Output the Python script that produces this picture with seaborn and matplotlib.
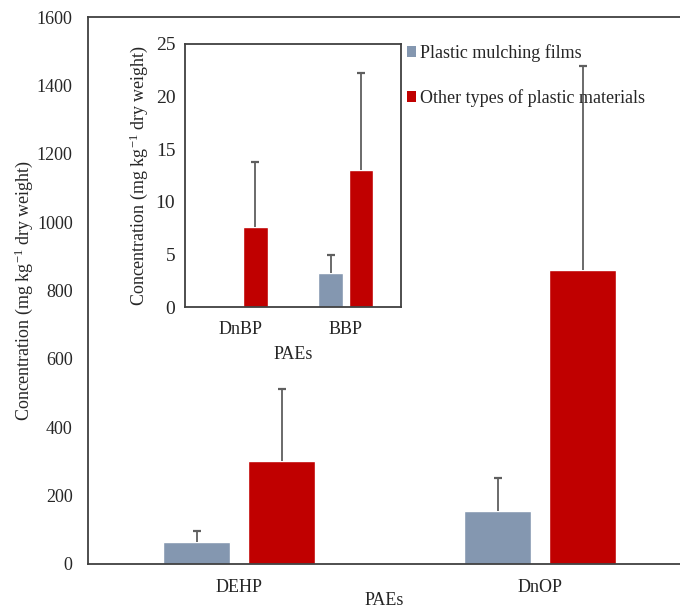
import numpy as np
import pandas as pd
import matplotlib
matplotlib.use("Agg")
import matplotlib.pyplot as plt
import seaborn as sns
from matplotlib.patches import Patch

# ---- data ----
main_categories = ["DEHP", "DnOP"]
main_film = [64, 155]
main_film_sd = [32, 96]
main_other = [301, 860]
main_other_sd = [211, 596]

inset_categories = ["DnBP", "BBP"]
inset_film = [0.05, 3.2]
inset_film_sd = [0.0, 1.7]
inset_other = [7.6, 13.0]
inset_other_sd = [6.2, 9.2]

series_names = ["Plastic mulching films", "Other types of plastic materials"]
main_yticks = [0, 200, 400, 600, 800, 1000, 1200, 1400, 1600]
inset_yticks = [0, 5, 10, 15, 20, 25]

colors = ["#8497B0", "#C00000"]
err_color = "#5f5f5f"
spine_color = "#404040"

sns.set_style("white")
plt.rcParams["font.family"] = ["Liberation Serif", "DejaVu Serif"]
plt.rcParams["mathtext.fontset"] = "custom"
plt.rcParams["mathtext.rm"] = "Liberation Serif"
plt.rcParams["mathtext.it"] = "Liberation Serif:italic"
text_color = "#262626"
fs = 13


def make_df(cats, film, other):
    return pd.DataFrame({
        "PAE": cats * 2,
        "Type": [series_names[0]] * len(cats) + [series_names[1]] * len(cats),
        "Value": list(film) + list(other),
    })


def add_err(ax, sds, capsize):
    for cont, sd in zip(ax.containers, sds):
        for bar, s in zip(cont.patches, sd):
            if s <= 0:
                continue
            x = bar.get_x() + bar.get_width() / 2
            y = bar.get_height()
            ax.vlines(x, y, y + s, color=err_color, lw=1.3, zorder=3)
            ax.plot([x], [y + s], marker="_", markersize=capsize,
                    mew=1.6, color=err_color, zorder=3)


fig = plt.figure(figsize=(6.8, 6.1), dpi=100)

# ---- main axes ----
ax = fig.add_axes([88 / 680, 46 / 610, 592 / 680, 547 / 610])
sns.barplot(data=make_df(main_categories, main_film, main_other),
            x="PAE", y="Value", hue="Type", palette=colors,
            width=0.565, gap=0.21, errorbar=None, legend=False,
            saturation=1, ax=ax)
add_err(ax, [main_film_sd, main_other_sd], 6)
ax.set_xlim(-0.502, 1.465)
ax.set_ylim(0, 1600)
ax.set_yticks(main_yticks)
ax.tick_params(length=0, labelsize=fs, colors=text_color, pad=11)
ax.tick_params(axis="x", pad=11)
ax.set_xlabel("PAEs", fontsize=fs, color=text_color, labelpad=-3)
ax.set_ylabel("Concentration (mg kg$^{-1}$ dry weight)", fontsize=fs,
              color=text_color, labelpad=1)
for side in ["left", "top", "bottom"]:
    ax.spines[side].set_visible(True)
    ax.spines[side].set_color(spine_color)
    ax.spines[side].set_linewidth(1.3)
ax.spines["right"].set_visible(False)

# ---- inset axes ----
ax2 = fig.add_axes([185 / 680, 303 / 610, 216 / 680, 263 / 610])
sns.barplot(data=make_df(inset_categories, inset_film, inset_other),
            x="PAE", y="Value", hue="Type", palette=colors,
            width=0.576, gap=0.2, errorbar=None, legend=False,
            saturation=1, ax=ax2)
add_err(ax2, [inset_film_sd, inset_other_sd], 6)
ax2.set_xlim(-0.52, 1.52)
ax2.set_ylim(0, 25)
ax2.set_yticks(inset_yticks)
ax2.tick_params(length=0, labelsize=fs, colors=text_color, pad=7)
ax2.tick_params(axis="y", labelsize=14)
ax2.tick_params(axis="x", pad=10)
ax2.set_xlabel("PAEs", fontsize=fs, color=text_color, labelpad=6)
ax2.set_ylabel("Concentration (mg kg$^{-1}$ dry weight)", fontsize=fs,
               color=text_color, labelpad=4)
for side in ["left", "top", "bottom", "right"]:
    ax2.spines[side].set_visible(True)
    ax2.spines[side].set_color(spine_color)
    ax2.spines[side].set_linewidth(1.3)

# ---- legend ----
handles = [Patch(facecolor=c, edgecolor="none") for c in colors]
fig.legend(handles, series_names, loc="upper left",
           bbox_to_anchor=(407 / 680, 1 - 44 / 610), frameon=False,
           fontsize=fs, handlelength=0.5, handleheight=0.5,
           handletextpad=0.2, labelspacing=1.5, labelcolor=text_color,
           borderaxespad=0, borderpad=0)

fig.savefig("out.png", dpi=100)
